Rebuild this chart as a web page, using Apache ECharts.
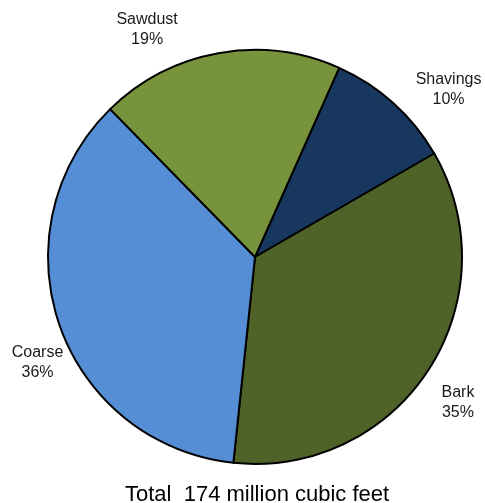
<!DOCTYPE html>
<html>
<head>
<meta charset="utf-8">
<script src="https://cdn.jsdelivr.net/npm/echarts@6/dist/echarts.min.js"></script>
<style>
  html, body { margin: 0; padding: 0; background: #ffffff; }
  #chart { width: 485px; height: 503px; }
</style>
</head>
<body>
<div id="chart"></div>
<script>
// Share of mill residue by type, in percent (clockwise from the top)
const categories = ['Shavings', 'Bark', 'Coarse', 'Sawdust'];
const shares = [10, 35, 36, 19];
const totalVolume = 174; // million cubic feet

// Slice fills
const sliceColors = {
  Shavings: '#17375E',
  Bark: '#4F6228',
  Coarse: '#558ED5',
  Sawdust: '#77933C'
};

// Label placement: [radial length, horizontal length] beyond the rim, plus a vertical nudge
const labelReach = {
  Shavings: [18, 38],
  Bark: [29, 0],
  Coarse: [18, 0],
  Sawdust: [24, 62]
};
const labelNudgeY = { Shavings: 0, Bark: 17, Coarse: 32, Sawdust: 0 };

const chart = echarts.init(document.getElementById('chart'), null, { renderer: 'canvas' });

const pieData = categories.map(function (name, i) {
  return {
    name: name,
    value: shares[i],
    itemStyle: { color: sliceColors[name] },
    labelLine: { show: false, length: labelReach[name][0], length2: labelReach[name][1] }
  };
});

chart.setOption({
  animation: false,
  backgroundColor: '#ffffff',
  title: {
    text: 'Total  ' + totalVolume + ' million cubic feet',
    left: 120,
    top: 479,
    textStyle: {
      fontFamily: 'Liberation Sans, Arial, sans-serif',
      fontSize: 22,
      fontWeight: 'normal',
      color: '#000000'
    }
  },
  series: [{
    type: 'pie',
    center: [255, 257],
    radius: [0, 207],
    startAngle: 66,
    clockwise: true,
    avoidLabelOverlap: false,
    itemStyle: { borderColor: '#000000', borderWidth: 2 },
    emphasis: { disabled: true },
    label: {
      show: true,
      position: 'outside',
      formatter: '{b}\n{d}%',
      fontFamily: 'Liberation Sans, Arial, sans-serif',
      fontSize: 16,
      lineHeight: 20,
      color: '#1a1a1a'
    },
    labelLayout: function (params) {
      return {
        align: 'center',
        verticalAlign: 'middle',
        dy: labelNudgeY[categories[params.dataIndex]]
      };
    },
    data: pieData
  }]
});
</script>
</body>
</html>
